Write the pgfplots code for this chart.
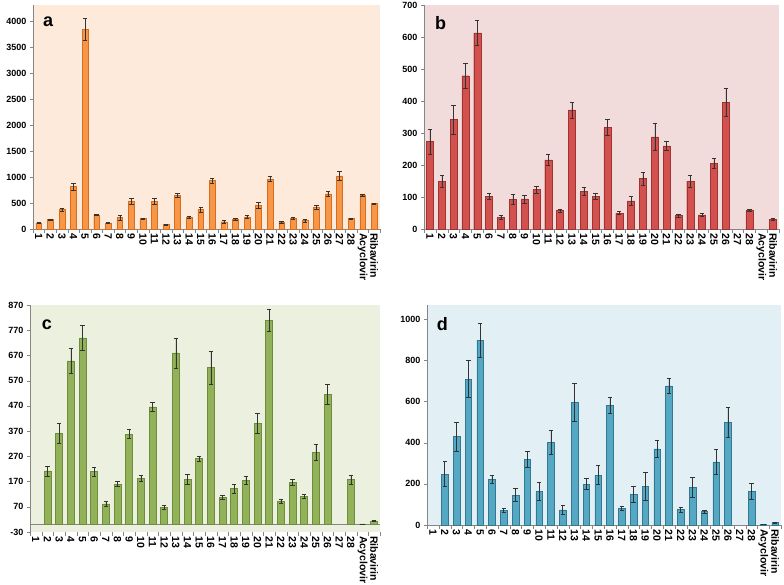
\documentclass[border=0pt]{standalone}
\usepackage{pgfplots}
\pgfplotsset{compat=1.18}
\usepackage{pgfplotstable}
\usepackage{fontspec}
\setmainfont{Liberation Sans}

\definecolor{bgA}{RGB}{253,234,218}
\definecolor{bgB}{RGB}{242,220,219}
\definecolor{bgC}{RGB}{235,241,222}
\definecolor{bgD}{RGB}{226,240,245}
\definecolor{barA}{RGB}{247,150,70}
\definecolor{edgeA}{RGB}{214,110,30}
\definecolor{barB}{RGB}{210,80,77}
\definecolor{edgeB}{RGB}{160,50,48}
\definecolor{barC}{RGB}{146,178,90}
\definecolor{edgeC}{RGB}{110,140,60}
\definecolor{barD}{RGB}{85,168,196}
\definecolor{edgeD}{RGB}{50,120,145}
\definecolor{axgray}{RGB}{134,134,134}

\pgfplotstableread{
x y e
1 120 10
2 180 15
3 372 25
4 818 70
5 3845 210
6 270 15
7 112 10
8 220 45
9 540 55
10 200 10
11 530 60
12 90 10
13 652 40
14 222 20
15 372 55
16 930 55
17 140 30
18 186 20
19 235 20
20 455 55
21 962 50
22 135 15
23 205 20
24 160 30
25 425 40
26 675 45
27 1020 85
28 200 15
29 645 15
30 490 10
}\dataA

\pgfplotstableread{
x y e
1 273 40
2 150 18
3 342 45
4 479 40
5 613 40
6 102 10
7 37 5
8 93 15
9 94 13
10 123 10
11 216 18
12 58 5
13 372 25
14 118 13
15 103 10
16 317 25
17 50 5
18 88 13
19 158 20
20 288 43
21 260 15
22 42 4
23 150 18
24 44 5
25 205 15
26 396 43
28 58 3
30 30 4
}\dataB

\pgfplotstableread{
x y e
2 212 20
3 360 40
4 648 50
5 740 50
6 210 18
7 82 10
8 160 10
9 358 18
10 184 12
11 466 18
12 68 8
13 680 60
14 178 20
15 262 10
16 622 65
17 108 8
18 142 18
19 176 15
20 402 40
21 810 45
22 92 7
23 166 12
24 112 8
25 286 30
26 516 40
28 178 17
29 2 0
30 14 2
}\dataC

\pgfplotstableread{
x y e
2 247 61
3 430 70
4 708 90
5 898 82
6 223 20
7 71 8
8 145 32
9 318 40
10 163 45
11 402 57
12 74 22
13 596 92
14 199 27
15 242 46
16 582 40
17 82 8
18 150 38
19 189 68
20 370 43
21 675 36
22 76 12
23 184 48
24 65 8
25 307 62
26 499 75
28 163 40
29 3 0
30 12 2
}\dataD

\tikzset{letter/.style={font=\bfseries\fontsize{18}{20}\selectfont, anchor=center}}

\pgfplotsset{
  panel/.style={
    scale only axis,
    anchor=north west,
    xmin=0.5, xmax=30.5,
    xtick={1,...,30},
    xticklabels={1,2,3,4,5,6,7,8,9,10,11,12,13,14,15,16,17,18,19,20,21,22,23,24,25,26,27,28,Acyclovir,Ribavirin},
    minor xtick={0.5,1.5,...,30.5},
    major x tick style={draw=none},
    minor x tick style={axgray},
    minor tick length=4pt,
    major tick length=3pt,
    tick align=outside,
    y tick style={axgray},
    axis x line*=bottom,
    axis y line*=left,
    axis line style={axgray, line width=0.6pt},
    xticklabel style={rotate=-90, anchor=west, font=\bfseries\fontsize{10.5}{11}\selectfont, inner sep=1pt},
    yticklabel style={font=\bfseries\fontsize{9}{10}\selectfont},
    /pgf/number format/assume math mode=true,
    /pgf/number format/1000 sep={},
    clip=false,
    error bars/error bar style={black!80, line width=0.5pt},
    error bars/error mark options={rotate=90, mark size=2.2pt, black!80, line width=0.5pt},
  },
}

\begin{document}
\begin{tikzpicture}
\path[use as bounding box] (0pt,0pt) rectangle (784pt,-584pt);

% Panel a
\begin{axis}[panel, at={(33pt,-5pt)}, width=347pt, height=224pt,
  ymin=0, ymax=4308, ytick={0,500,...,4000},
  axis background/.style={fill=bgA}]
\addplot[ybar, bar width=0.5, fill=barA, draw=edgeA,
  error bars/.cd, y dir=both, y explicit] table[x=x,y=y,y error=e]{\dataA};
\node[letter] at (axis cs:1.8,3990) {a};
\end{axis}

% Panel b
\begin{axis}[panel, at={(424pt,-5pt)}, width=355pt, height=224pt,
  ymin=0, ymax=700, ytick={0,100,...,700},
  axis background/.style={fill=bgB}]
\addplot[ybar, bar width=0.6, fill=barB, draw=edgeB,
  error bars/.cd, y dir=both, y explicit] table[x=x,y=y,y error=e]{\dataB};
\node[letter] at (axis cs:1.9,645) {b};
\end{axis}

% Panel c
\begin{axis}[panel, at={(30pt,-305pt)}, width=350pt, height=227pt,
  ymin=-30, ymax=870, ytick={-30,70,...,870},
  x axis line style={draw=none},
  axis background/.style={fill=bgC}]
\draw[axgray, line width=0.6pt] (axis cs:0.5,0) -- (axis cs:30.5,0);
\addplot[ybar, bar width=0.6, fill=barC, draw=edgeC,
  error bars/.cd, y dir=both, y explicit] table[x=x,y=y,y error=e]{\dataC};
\node[letter] at (axis cs:1.95,790) {c};
\end{axis}

% Panel d
\begin{axis}[panel, at={(427pt,-305pt)}, width=354pt, height=220pt,
  ymin=0, ymax=1068, ytick={0,200,...,1000},
  axis background/.style={fill=bgD}]
\addplot[ybar, bar width=0.55, fill=barD, draw=edgeD,
  error bars/.cd, y dir=both, y explicit] table[x=x,y=y,y error=e]{\dataD};
\node[letter] at (axis cs:1.8,975) {d};
\end{axis}
\end{tikzpicture}
\end{document}
